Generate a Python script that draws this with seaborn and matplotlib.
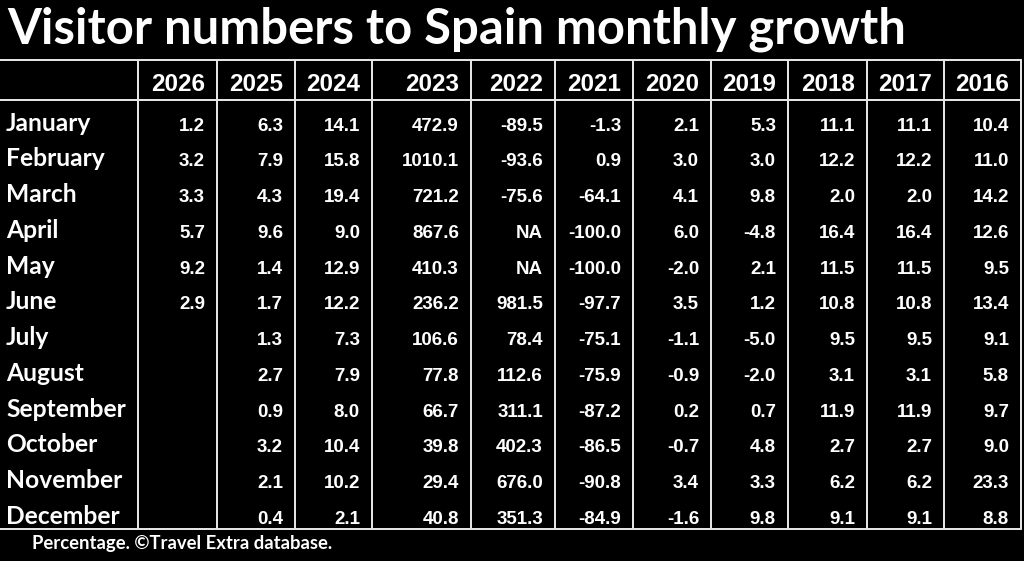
import numpy as np
import pandas as pd
import matplotlib
matplotlib.use("Agg")
import matplotlib.pyplot as plt
import seaborn as sns
from matplotlib.colors import ListedColormap
from matplotlib.lines import Line2D
import matplotlib.transforms as mtransforms

# ---------------- data ----------------
title = "Visitor numbers to Spain monthly growth"
footer = "Percentage. \u00a9Travel Extra database."
months = ["January", "February", "March", "April", "May", "June", "July",
          "August", "September", "October", "November", "December"]
years = ["2026", "2025", "2024", "2023", "2022", "2021", "2020", "2019",
         "2018", "2017", "2016"]
v2026 = [1.2, 3.2, 3.3, 5.7, 9.2, 2.9, None, None, None, None, None, None]
v2025 = [6.3, 7.9, 4.3, 9.6, 1.4, 1.7, 1.3, 2.7, 0.9, 3.2, 2.1, 0.4]
v2024 = [14.1, 15.8, 19.4, 9.0, 12.9, 12.2, 7.3, 7.9, 8.0, 10.4, 10.2, 2.1]
v2023 = [472.9, 1010.1, 721.2, 867.6, 410.3, 236.2, 106.6, 77.8, 66.7, 39.8, 29.4, 40.8]
v2022 = [-89.5, -93.6, -75.6, "NA", "NA", 981.5, 78.4, 112.6, 311.1, 402.3, 676.0, 351.3]
v2021 = [-1.3, 0.9, -64.1, -100.0, -100.0, -97.7, -75.1, -75.9, -87.2, -86.5, -90.8, -84.9]
v2020 = [2.1, 3.0, 4.1, 6.0, -2.0, 3.5, -1.1, -0.9, 0.2, -0.7, 3.4, -1.6]
v2019 = [5.3, 3.0, 9.8, -4.8, 2.1, 1.2, -5.0, -2.0, 0.7, 4.8, 3.3, 9.8]
v2018 = [11.1, 12.2, 2.0, 16.4, 11.5, 10.8, 9.5, 3.1, 11.9, 2.7, 6.2, 9.1]
v2017 = [11.1, 12.2, 2.0, 16.4, 11.5, 10.8, 9.5, 3.1, 11.9, 2.7, 6.2, 9.1]
v2016 = [10.4, 11.0, 14.2, 12.6, 9.5, 13.4, 9.1, 5.8, 9.7, 9.0, 23.3, 8.8]
series = [v2026, v2025, v2024, v2023, v2022, v2021, v2020, v2019, v2018, v2017, v2016]

raw = pd.DataFrame({y: s for y, s in zip(years, series)}, index=months)
num = raw.apply(lambda c: pd.to_numeric(c, errors="coerce"))

# ---------------- layout ----------------
W, H = 1024, 561
col_edges = [138, 217, 295, 372, 471, 555, 633, 711, 788, 867, 944, 1021]
y_top, y_head, y_bot = 60, 100, 529
pad_right = 12
line_col = "#e4e4e4"
label_font = "Lato"
num_font = "Liberation Sans"

sns.set_theme(style="white")
plt.rcParams["font.family"] = ["Lato", "DejaVu Sans"]

fig = plt.figure(figsize=(W / 100, H / 100), dpi=100, facecolor="black")

def fx(px):
    return px / W

def fy(py):
    return 1 - py / H

black = ListedColormap(["black"])
first_ax = None
for i, year in enumerate(years):
    x0, x1 = col_edges[i], col_edges[i + 1]
    ax = fig.add_axes([fx(x0), fy(y_bot), (x1 - x0) / W, (y_bot - y_head) / H])
    ax.set_facecolor("black")
    sns.heatmap(num[[year]], ax=ax, cmap=black, cbar=False,
                xticklabels=False, yticklabels=False, linewidths=0)
    ax.set_xlabel("")
    ax.set_ylabel("")
    for s in ax.spines.values():
        s.set_visible(False)
    xr = 1 - pad_right / (x1 - x0)
    # header
    ax.text(xr, (y_bot - 91) / (y_bot - y_head), year, transform=ax.transAxes,
            ha="right", va="baseline", color="white", fontsize=17.5,
            fontweight="bold", family=num_font)
    for r, v in enumerate(raw[year]):
        if v is None or (isinstance(v, float) and np.isnan(v)):
            continue
        lab = v if isinstance(v, str) else f"{v:.1f}"
        ax.text(xr, r + 1 - 0.14, lab, ha="right", va="baseline",
                color="white", fontsize=13.5, fontweight="bold", family=num_font)
    if first_ax is None:
        first_ax = ax

# month labels
trans = mtransforms.blended_transform_factory(fig.transFigure, first_ax.transData)
for r, m in enumerate(months):
    fig.text(fx(6), r + 1 - 0.14, m, transform=trans, ha="left", va="baseline",
             color="white", fontsize=17.7, fontweight="bold", family=label_font)

# grid lines
lw = 2.0 * 72 / 100
for yy in (y_top, y_head, y_bot):
    fig.add_artist(Line2D([0, fx(col_edges[-1])], [fy(yy), fy(yy)],
                          transform=fig.transFigure, color=line_col, lw=lw))
for xx in col_edges:
    fig.add_artist(Line2D([fx(xx), fx(xx)], [fy(y_top), fy(y_bot)],
                          transform=fig.transFigure, color=line_col, lw=lw))

# title & footer
fig.text(fx(7), fy(43), title, ha="left", va="baseline", color="white",
         fontsize=35.3, fontweight="bold", family=label_font)
fig.text(fx(32), fy(549), footer, ha="left", va="baseline", color="white",
         fontsize=13.3, fontweight="bold", family=label_font)

fig.savefig("out.png", dpi=100, facecolor="black")
